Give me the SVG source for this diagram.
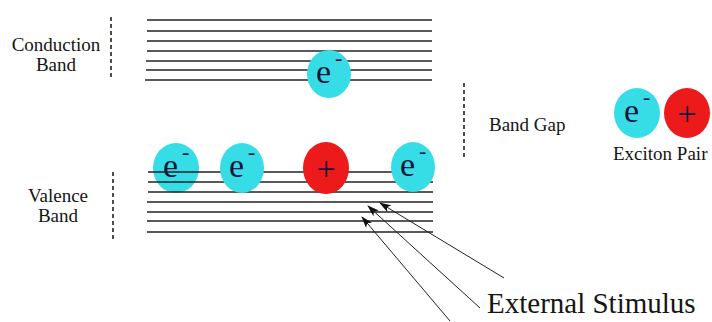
<svg xmlns="http://www.w3.org/2000/svg" width="712" height="322" viewBox="0 0 712 322" font-family="'Liberation Serif', 'Times New Roman', Times, 'DejaVu Serif', serif">
<defs>
<style>
text{font-family:'Liberation Serif','Times New Roman',Times,'DejaVu Serif',serif}
.lbl{font-size:19px;fill:#151515}
.big{font-size:29px;fill:#151515}
.sym{font-size:34px;fill:#14143a}
.sup{font-size:22px}
.band line{stroke:#222;stroke-width:1.6}
.dash{stroke:#222;stroke-width:1.6;stroke-dasharray:4 3;fill:none}
.el{fill:#36dde6}
.ho{fill:#ec1a1a}
.arr{stroke:#222;stroke-width:1;fill:none}
</style>
<marker id="ah" markerWidth="12" markerHeight="8" refX="11" refY="4" orient="auto" markerUnits="userSpaceOnUse">
<path d="M0,0 L12,4 L0,8 L3,4 z" fill="#111"/>
</marker>
</defs>
<rect width="712" height="322" fill="#ffffff"/>

<g id="valence-e1">
<ellipse class="el" cx="176" cy="168" rx="23" ry="25"/>
<text class="sym" x="163" y="177">e<tspan class="sup" dx="4" dy="-18">-</tspan></text>
</g>

<g id="conduction-band" class="band">
<line x1="147" y1="20" x2="432" y2="20"/>
<line x1="147" y1="31" x2="432" y2="31"/>
<line x1="147" y1="41" x2="432" y2="41"/>
<line x1="147" y1="51" x2="432" y2="51"/>
<line x1="146" y1="61" x2="432" y2="61"/>
<line x1="146" y1="70" x2="432" y2="70"/>
<line x1="145" y1="80" x2="432" y2="80"/>
</g>

<g id="valence-band" class="band">
<line x1="148" y1="172" x2="433" y2="172"/>
<line x1="148" y1="182" x2="433" y2="182"/>
<line x1="148" y1="192" x2="433" y2="192"/>
<line x1="147" y1="202" x2="433" y2="202"/>
<line x1="147" y1="212" x2="433" y2="212"/>
<line x1="147" y1="221" x2="433" y2="221"/>
<line x1="147" y1="232" x2="433" y2="232"/>
</g>

<g id="conduction-label">
<line class="dash" x1="111" y1="17" x2="111" y2="80"/>
<text class="lbl" x="56" y="51" text-anchor="middle">Conduction</text>
<text class="lbl" x="56" y="71" text-anchor="middle">Band</text>
</g>

<g id="valence-label">
<line class="dash" x1="113" y1="172" x2="113" y2="240"/>
<text class="lbl" x="58" y="202" text-anchor="middle">Valence</text>
<text class="lbl" x="58" y="222" text-anchor="middle">Band</text>
</g>

<g id="bandgap-label">
<line class="dash" x1="464" y1="83" x2="464" y2="160"/>
<text class="lbl" x="489" y="131">Band Gap</text>
</g>

<g id="conduction-e">
<ellipse class="el" cx="329" cy="74" rx="22" ry="24"/>
<text class="sym" x="316" y="83">e<tspan class="sup" dx="4" dy="-18">-</tspan></text>
</g>

<g id="valence-e2">
<ellipse class="el" cx="242" cy="168" rx="22" ry="25"/>
<text class="sym" x="229" y="177">e<tspan class="sup" dx="4" dy="-18">-</tspan></text>
</g>

<g id="valence-hole">
<ellipse class="ho" cx="326" cy="168" rx="23" ry="26"/>
<text class="sym" x="326" y="180" text-anchor="middle">+</text>
</g>

<g id="valence-e4">
<ellipse class="el" cx="413" cy="167" rx="22" ry="25"/>
<text class="sym" x="400" y="176">e<tspan class="sup" dx="4" dy="-18">-</tspan></text>
</g>

<g id="exciton-pair">
<ellipse class="el" cx="637" cy="113" rx="23" ry="25"/>
<text class="sym" x="624" y="122">e<tspan class="sup" dx="4" dy="-18">-</tspan></text>
<ellipse class="ho" cx="687" cy="113" rx="23" ry="25"/>
<text class="sym" x="687" y="125" text-anchor="middle">+</text>
<text class="lbl" x="613" y="160">Exciton Pair</text>
</g>

<g id="connectors">
<line class="arr" x1="504" y1="278" x2="380" y2="203" marker-end="url(#ah)"/>
<line class="arr" x1="480" y1="308" x2="368" y2="206" marker-end="url(#ah)"/>
<line class="arr" x1="450" y1="321" x2="362" y2="217" marker-end="url(#ah)"/>
</g>

<g id="stimulus-label">
<text class="big" x="487" y="313">External Stimulus</text>
</g>
</svg>
